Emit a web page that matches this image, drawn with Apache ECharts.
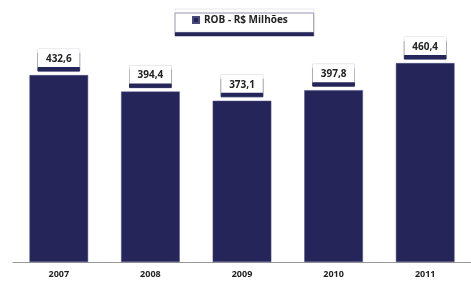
<!DOCTYPE html>
<html>
<head>
<meta charset="utf-8">
<script src="https://cdn.jsdelivr.net/npm/echarts@6/dist/echarts.min.js"></script>
<style>
  html, body { margin: 0; padding: 0; background: #fff; }
  #main { width: 471px; height: 284px; }
</style>
</head>
<body>
<div id="main"></div>
<script>
// dados
var anos = ['2007', '2008', '2009', '2010', '2011'];
var rob = [432.6, 394.4, 373.1, 397.8, 460.4];
var serieNome = 'ROB - R$ Milhões';

var navy = '#25255a';

var myChart = echarts.init(document.getElementById('main'));
var option = {
    animation: false,
    textStyle: { fontFamily: 'Open Sans' },
    legend: {
        data: [serieNome],
        top: 9,
        left: 175,
        padding: [6, 26, 7, 17],
        itemWidth: 6,
        itemHeight: 6,
        itemGap: 4,
        icon: 'rect',
        backgroundColor: '#fff',
        borderColor: '#d0d0da',
        borderWidth: 0.5,
        shadowColor: navy,
        shadowOffsetY: 4,
        shadowBlur: 0,
        textStyle: { fontSize: 10, fontWeight: 'bold', color: '#222', fontFamily: 'Open Sans' }
    },
    grid: {
        left: 13,
        width: 463,
        top: 46,
        bottom: 22
    },
    xAxis: {
        type: 'category',
        data: anos,
        axisLine: { lineStyle: { color: '#999', width: 1 } },
        axisTick: { length: 3, lineStyle: { color: '#999' } },
        axisLabel: { fontSize: 9, fontWeight: 'bold', color: '#222', margin: 8 }
    },
    yAxis: {
        type: 'value',
        min: 0,
        max: 500,
        show: false,
        splitLine: { show: false }
    },
    series: [
        {
            name: serieNome,
            type: 'bar',
            data: rob,
            barWidth: '64%',
            itemStyle: { color: navy, borderColor: '#4a4a80', borderWidth: 0.5 },
            label: {
                show: true,
                position: 'top',
                distance: 8,
                formatter: function (p) { return p.value.toFixed(1).replace('.', ','); },
                fontSize: 10,
                fontWeight: 'bold',
                color: '#222',
                backgroundColor: '#fff',
                borderColor: '#d0d0d8',
                borderWidth: 0.5,
                padding: [5, 8, 3, 8],
                shadowColor: navy,
                shadowOffsetY: 4,
                shadowBlur: 0
            }
        }
    ]
};
myChart.setOption(option);
</script>
</body>
</html>
